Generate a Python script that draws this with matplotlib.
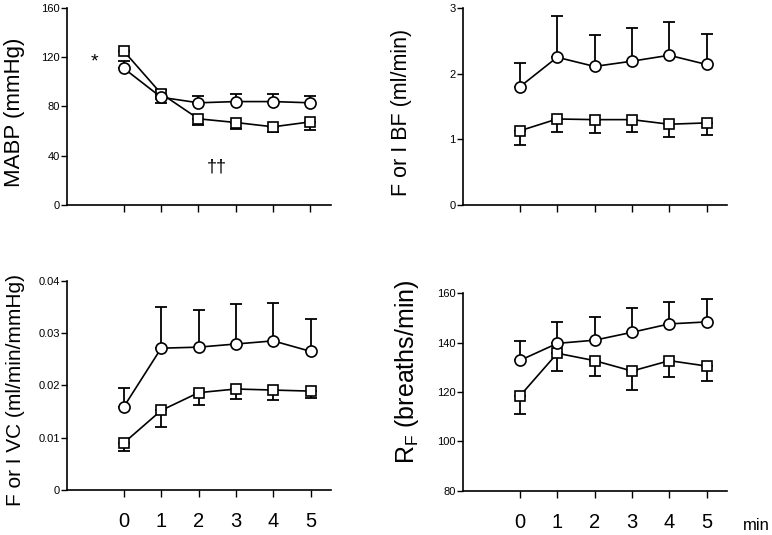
import matplotlib
matplotlib.use('Agg')
import matplotlib.pyplot as plt

plt.rcParams['font.family'] = ['Liberation Sans', 'DejaVu Sans']
plt.rcParams['mathtext.fontset'] = 'custom'
plt.rcParams['mathtext.rm'] = 'Liberation Sans'

# time points (min)
minutes = [0, 1, 2, 3, 4, 5]

# MABP (mmHg)
mabp_circ = [111, 87.5, 83, 84, 84, 83]
mabp_circ_err = [6, 6, 5.5, 6, 6, 5.5]
mabp_sq = [125, 90.5, 70, 67, 63.5, 67.5]
mabp_sq_err = [0, 7.5, 5, 5.5, 4.5, 6.5]

# F or I BF (ml/min)
bf_circ = [1.80, 2.25, 2.11, 2.19, 2.28, 2.14]
bf_circ_err = [0.36, 0.63, 0.48, 0.51, 0.51, 0.47]
bf_sq = [1.13, 1.31, 1.30, 1.30, 1.23, 1.25]
bf_sq_err = [0.21, 0.20, 0.21, 0.19, 0.19, 0.19]

# F or I VC (ml/min/mmHg)
vc_circ = [0.0159, 0.0271, 0.0273, 0.0279, 0.0285, 0.0265]
vc_circ_err = [0.0035, 0.0079, 0.0071, 0.0076, 0.0072, 0.0062]
vc_sq = [0.0090, 0.0152, 0.0186, 0.0193, 0.0191, 0.0189]
vc_sq_err = [0.0015, 0.0031, 0.0024, 0.0020, 0.0019, 0.0014]

# RF (breaths/min)
rf_circ = [132.8, 139.7, 141.0, 144.2, 147.6, 148.4]
rf_circ_err = [8.0, 8.7, 9.5, 9.7, 8.9, 9.3]
rf_sq = [118.4, 135.7, 132.7, 128.5, 132.7, 130.5]
rf_sq_err = [7.2, 7.2, 6.3, 7.5, 6.7, 6.2]

W, H = 772, 535
fig = plt.figure(figsize=(W / 100, H / 100), dpi=100)


def px_axes(x0, y0, x1, y1):
    return fig.add_axes([x0 / W, 1 - y1 / H, (x1 - x0) / W, (y1 - y0) / H])


ax1 = px_axes(66.7, 8, 330.5, 205)
ax2 = px_axes(462.7, 8, 726.7, 205)
ax3 = px_axes(66.7, 280.7, 330.7, 490)
ax4 = px_axes(462.7, 293.3, 727, 490.7)

panels = [
    (ax1, mabp_circ, mabp_circ_err, mabp_sq, mabp_sq_err, (0, 160), [0, 40, 80, 120, 160], ['0', '40', '80', '120', '160']),
    (ax2, bf_circ, bf_circ_err, bf_sq, bf_sq_err, (0, 3), [0, 1, 2, 3], ['0', '1', '2', '3']),
    (ax3, vc_circ, vc_circ_err, vc_sq, vc_sq_err, (0, 0.04), [0, 0.01, 0.02, 0.03, 0.04], ['0', '0.01', '0.02', '0.03', '0.04']),
    (ax4, rf_circ, rf_circ_err, rf_sq, rf_sq_err, (80, 160), [80, 100, 120, 140, 160], ['80', '100', '120', '140', '160']),
]

zeros = [0] * len(minutes)
for ax, c, ce, s, se, ylim, yt, ytl in panels:
    # one-sided error bars: circles up, squares down
    ax.errorbar(minutes, c, yerr=[zeros, ce], fmt='none', ecolor='black',
                elinewidth=1.3, capsize=4, capthick=1.3, zorder=2)
    ax.errorbar(minutes, s, yerr=[se, zeros], fmt='none', ecolor='black',
                elinewidth=1.3, capsize=4, capthick=1.3, zorder=2)
    ax.plot(minutes, s, '-', color='black', lw=1.2, marker='s', ms=7.5,
            mfc='white', mec='black', mew=1.2, zorder=3)
    ax.plot(minutes, c, '-', color='black', lw=1.2, marker='o', ms=8,
            mfc='white', mec='black', mew=1.2, zorder=4)
    ax.set_xlim(-1.53, 5.54)
    ax.set_ylim(*ylim)
    ax.set_yticks(yt)
    ax.set_yticklabels(ytl)
    ax.set_xticks(minutes)
    for sp in ['top', 'right']:
        ax.spines[sp].set_visible(False)
    for sp in ['left', 'bottom']:
        ax.spines[sp].set_linewidth(1.2)
    ax.tick_params(axis='y', direction='out', length=4, width=1, labelsize=8, pad=1)
    ax.tick_params(axis='x', direction='out', length=5, width=1)
    ax.patch.set_visible(False)

for ax in (ax1, ax2):
    ax.set_xticklabels([])
for ax in (ax3, ax4):
    ax.set_xticklabels([str(m) for m in minutes])
    ax.tick_params(axis='x', labelsize=14.5, pad=11)

# y-axis labels
fig.text(15 / W, 1 - 112 / H, 'MABP (mmHg)', rotation=90, ha='center', va='center', fontsize=16)
fig.text(402 / W, 1 - 112 / H, 'F or I BF (ml/min)', rotation=90, ha='center', va='center', fontsize=15.5)
fig.text(16 / W, 1 - 390 / H, 'F or I VC (ml/min/mmHg)', rotation=90, ha='center', va='center', fontsize=15)
fig.text(407 / W, 1 - 372 / H, r'R$_\mathregular{F}$ (breaths/min)', rotation=90, ha='center', va='center', fontsize=18)

# significance marks
ax1.text(-0.78, 116, '*', ha='center', va='center', fontsize=14)
ax1.text(2.5, 31, '\u2020\u2020', ha='center', va='center', fontsize=13)

fig.text(743 / W, 1 - 530 / H, 'min', ha='left', va='baseline', fontsize=12)

fig.savefig('out.png', dpi=100)
